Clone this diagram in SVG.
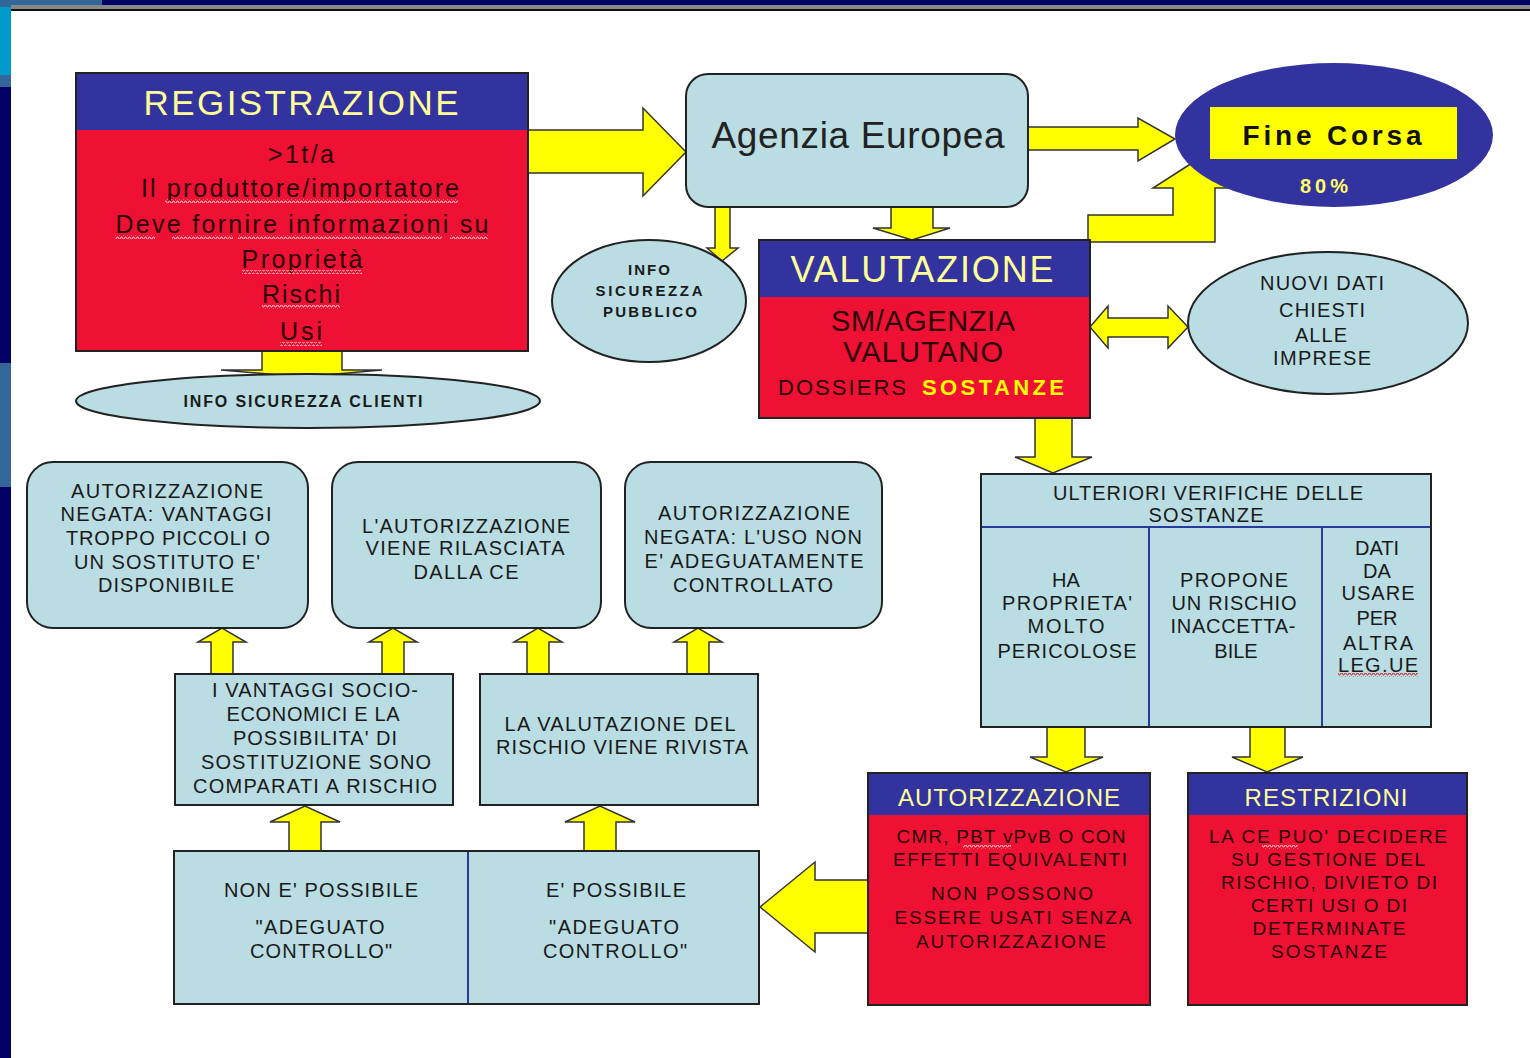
<svg xmlns="http://www.w3.org/2000/svg" width="1530" height="1058" viewBox="0 0 1530 1058">
<defs>
<style>
.t{font-family:"Liberation Sans",Arial,sans-serif;text-anchor:middle}
.title{fill:#ffff99}
.red{fill:#2a0008;font-size:25px}
.red2{fill:#2a0008;font-size:19px}
.dark{fill:#1a1a1a;font-size:20px}
.sm{fill:#1a1a1a;font-size:15px;font-weight:bold}
.hdr{fill:#3333a0}
.body{fill:#ee1133}
.lb{fill:#b9dde3;stroke:#222;stroke-width:2}
.box{stroke:#222;stroke-width:2;fill:none}
.arr{fill:#ffff00;stroke:#333;stroke-width:1.5;stroke-linejoin:miter}
.div{stroke:#2a3a9a;stroke-width:2}
.wl{fill:url(#wavyL)}
.wr{fill:url(#wavyR)}
</style>
<pattern id="wavyL" width="4" height="4" patternUnits="userSpaceOnUse">
<path d="M0,3 L1,1 L2,1 L3,3 L4,3" fill="none" stroke="#ffd0d0" stroke-width="0.9"/>
</pattern>
<pattern id="wavyR" width="4" height="4" patternUnits="userSpaceOnUse">
<path d="M0,3 L1,1 L2,1 L3,3 L4,3" fill="none" stroke="#dd1111" stroke-width="0.9"/>
</pattern>
</defs>
<rect x="0" y="0" width="1530" height="1058" fill="#ffffff"/>
<g id="frame">
<rect x="0" y="0" width="1530" height="5" fill="#000066"/>
<rect x="0" y="0" width="102" height="5" fill="#336699"/>
<rect x="11" y="5" width="1519" height="4" fill="#888888"/>
<rect x="11" y="9" width="1519" height="2" fill="#111111"/>
<rect x="0" y="5" width="11" height="1053" fill="#000066"/>
<rect x="0" y="5" width="11" height="2" fill="#336699"/>
<rect x="0" y="7" width="11" height="68" fill="#0099cc"/>
<rect x="0" y="75" width="11" height="12" fill="#336699"/>
<rect x="0" y="363" width="11" height="124" fill="#336699"/>
</g>
<g id="connectors">
<polygon class="arr" points="528,130 643,130 643,108 686,152 643,196 643,173 528,173"/>
<polygon class="arr" points="1028,127 1138,127 1138,118 1175,139 1138,161 1138,150 1028,150"/>
<polygon class="arr" points="715,207 730,207 730,248 738,248 722,261 707,248 715,248"/>
<polygon class="arr" points="891,207 933,207 933,228 950,228 912,240 873,228 891,228"/>
<polygon class="arr" points="1088,215 1173,215 1173,188 1153,188 1192,163 1230,188 1215,188 1215,242 1088,242"/>
<polygon class="arr" points="1090,327 1108,306 1108,318 1168,318 1168,306 1188,327 1168,348 1168,337 1108,337 1108,348"/>
<polygon class="arr" points="1035,418 1072,418 1072,457 1092,457 1053,473 1015,457 1035,457"/>
<polygon class="arr" points="262,351 342,351 342,370 382,370 302,377 221,370 262,370"/>
<polygon class="arr" points="1047,727 1085,727 1085,757 1103,757 1066,772 1030,757 1047,757"/>
<polygon class="arr" points="1250,727 1285,727 1285,757 1303,757 1267,772 1232,757 1250,757"/>
<polygon class="arr" points="868,880 815,880 815,862 760,907 815,952 815,933 868,933"/>
<polygon class="arr" points="289,851 289,822 270,822 305,806 340,822 321,822 321,851"/>
<polygon class="arr" points="584,851 584,822 565,822 600,806 635,822 616,822 616,851"/>
<polygon class="arr" points="211,674 211,642 198,642 222,628 246,642 233,642 233,674"/>
<polygon class="arr" points="382,674 382,642 369,642 393,628 417,642 404,642 404,674"/>
<polygon class="arr" points="527,674 527,642 514,642 538,628 562,642 549,642 549,674"/>
<polygon class="arr" points="687,674 687,642 674,642 698,628 722,642 709,642 709,674"/>
</g>
<g id="registrazione">
<rect class="body" x="76" y="73" width="452" height="278"/>
<rect class="hdr" x="76" y="73" width="452" height="57"/>
<rect class="box" x="76" y="73" width="452" height="278"/>
<text class="t title" x="301" y="115" style="font-size:35px" textLength="315">REGISTRAZIONE</text>
<text class="t red" x="301" y="163" textLength="66">&gt;1t/a</text>
<text class="t red" x="300" y="197" textLength="318">Il produttore/importatore</text>
<text class="t red" x="302" y="233" textLength="373">Deve fornire informazioni su</text>
<text class="t red" x="302" y="268" textLength="121">Proprietà</text>
<text class="t red" x="301" y="303" textLength="78">Rischi</text>
<text class="t red" x="301" y="340" textLength="42">Usi</text>
<rect class="wl" x="165" y="199" width="293" height="4"/>
<rect class="wl" x="115" y="235" width="40" height="4"/>
<rect class="wl" x="172" y="235" width="61" height="4"/>
<rect class="wl" x="238" y="235" width="204" height="4"/>
<rect class="wl" x="450" y="235" width="38" height="4"/>
<rect class="wl" x="242" y="270" width="120" height="4"/>
<rect class="wl" x="262" y="305" width="78" height="4"/>
<rect class="wl" x="280" y="342" width="42" height="4"/>
</g>
<g id="info-clienti">
<ellipse class="lb" cx="308" cy="401" rx="232" ry="27"/>
<text class="t sm" x="303" y="407" style="font-size:16px" textLength="239">INFO SICUREZZA CLIENTI</text>
</g>
<g id="agenzia">
<rect class="lb" x="686" y="74" width="342" height="133" rx="22"/>
<text class="t" x="858" y="148" style="font-size:37px" fill="#222" textLength="293">Agenzia Europea</text>
</g>
<g id="info-pubblico">
<ellipse class="lb" cx="649" cy="301" rx="97" ry="61"/>
<text class="t sm" x="649" y="275" textLength="42">INFO</text>
<text class="t sm" x="649" y="296" textLength="107">SICUREZZA</text>
<text class="t sm" x="650" y="317" textLength="94">PUBBLICO</text>
</g>
<g id="fine-corsa">
<ellipse cx="1334" cy="135" rx="159" ry="72" fill="#3333a0"/>
<rect x="1210" y="107" width="247" height="52" fill="#ffff00"/>
<text class="t" x="1332" y="145" style="font-size:28px;font-weight:bold" fill="#111" textLength="179">Fine Corsa</text>
<text class="t" x="1324" y="193" style="font-size:20px;font-weight:bold" fill="#ffff66" textLength="48">80%</text>
</g>
<g id="valutazione">
<rect class="body" x="759" y="240" width="331" height="178"/>
<rect class="hdr" x="759" y="240" width="331" height="57"/>
<rect class="box" x="759" y="240" width="331" height="178"/>
<text class="t title" x="922" y="282" style="font-size:36px" textLength="263">VALUTAZIONE</text>
<text class="t red" x="923" y="331" style="font-size:29px" textLength="184">SM/AGENZIA</text>
<text class="t red" x="923" y="362" style="font-size:29px" textLength="160">VALUTANO</text>
<text class="t" x="842" y="395" style="font-size:22px" fill="#2a0008" textLength="128">DOSSIERS</text>
<text class="t" x="993" y="395" style="font-size:22px;font-weight:bold" fill="#ffff00" textLength="142">SOSTANZE</text>
</g>
<g id="nuovi-dati">
<ellipse class="lb" cx="1328" cy="323" rx="140" ry="71"/>
<text class="t dark" x="1322" y="290" textLength="124">NUOVI DATI</text>
<text class="t dark" x="1322" y="317" textLength="86">CHIESTI</text>
<text class="t dark" x="1321" y="342" textLength="52">ALLE</text>
<text class="t dark" x="1322" y="365" textLength="98">IMPRESE</text>
</g>
<g id="ulteriori">
<rect class="lb" x="981" y="474" width="450" height="253"/>
<line class="div" x1="982" y1="527" x2="1430" y2="527"/>
<line class="div" x1="1149" y1="528" x2="1149" y2="726"/>
<line class="div" x1="1322" y1="528" x2="1322" y2="726"/>
<text class="t dark" x="1208" y="500" textLength="310">ULTERIORI VERIFICHE DELLE</text>
<text class="t dark" x="1206" y="522" textLength="115">SOSTANZE</text>
<text class="t dark" x="1066" y="587">HA</text>
<text class="t dark" x="1067" y="610" textLength="130">PROPRIETA'</text>
<text class="t dark" x="1066" y="633" textLength="77">MOLTO</text>
<text class="t dark" x="1067" y="658" textLength="139">PERICOLOSE</text>
<text class="t dark" x="1234" y="587" textLength="108">PROPONE</text>
<text class="t dark" x="1234" y="610" textLength="125">UN RISCHIO</text>
<text class="t dark" x="1233" y="633" textLength="125">INACCETTA-</text>
<text class="t dark" x="1236" y="658">BILE</text>
<text class="t dark" x="1377" y="555">DATI</text>
<text class="t dark" x="1377" y="578">DA</text>
<text class="t dark" x="1378" y="600" textLength="73">USARE</text>
<text class="t dark" x="1377" y="625">PER</text>
<text class="t dark" x="1378" y="650" textLength="70">ALTRA</text>
<text class="t dark" x="1378" y="672" textLength="80">LEG.UE</text>
<rect class="wr" x="1338" y="673" width="80" height="4"/>
</g>
<g id="autorizzazione">
<rect class="body" x="868" y="773" width="282" height="232"/>
<rect class="hdr" x="868" y="773" width="282" height="42"/>
<rect class="box" x="868" y="773" width="282" height="232"/>
<text class="t title" x="1009" y="806" style="font-size:24px" textLength="222">AUTORIZZAZIONE</text>
<text class="t red2" x="1011" y="843" textLength="229">CMR, PBT vPvB O CON</text>
<text class="t red2" x="1010" y="866" textLength="234">EFFETTI EQUIVALENTI</text>
<text class="t red2" x="1012" y="900" textLength="162">NON POSSONO</text>
<text class="t red2" x="1013" y="924" textLength="237">ESSERE USATI SENZA</text>
<text class="t red2" x="1011" y="948" textLength="190">AUTORIZZAZIONE</text>
<rect class="wl" x="963" y="845" width="48" height="4"/>
</g>
<g id="restrizioni">
<rect class="body" x="1188" y="773" width="279" height="232"/>
<rect class="hdr" x="1188" y="773" width="279" height="42"/>
<rect class="box" x="1188" y="773" width="279" height="232"/>
<text class="t title" x="1326" y="806" style="font-size:24px" textLength="163">RESTRIZIONI</text>
<text class="t red2" x="1328" y="843" textLength="238">LA CE PUO' DECIDERE</text>
<text class="t red2" x="1328" y="866" textLength="194">SU GESTIONE DEL</text>
<text class="t red2" x="1329" y="889" textLength="216">RISCHIO, DIVIETO DI</text>
<text class="t red2" x="1329" y="912" textLength="156">CERTI USI O DI</text>
<text class="t red2" x="1329" y="935" textLength="153">DETERMINATE</text>
<text class="t red2" x="1329" y="958" textLength="116">SOSTANZE</text>
<rect class="wl" x="1262" y="845" width="36" height="4"/>
</g>
<g id="controllo">
<rect class="lb" x="174" y="851" width="585" height="153"/>
<line class="div" x1="468" y1="852" x2="468" y2="1003"/>
<text class="t dark" x="321" y="897" textLength="194">NON E' POSSIBILE</text>
<text class="t dark" x="320" y="934" textLength="129">"ADEGUATO</text>
<text class="t dark" x="321" y="958" textLength="142">CONTROLLO"</text>
<text class="t dark" x="616" y="897" textLength="140">E' POSSIBILE</text>
<text class="t dark" x="614" y="934" textLength="130">"ADEGUATO</text>
<text class="t dark" x="615" y="958" textLength="144">CONTROLLO"</text>
</g>
<g id="vantaggi">
<rect class="lb" x="175" y="674" width="278" height="131"/>
<text class="t dark" x="315" y="697" textLength="206">I VANTAGGI SOCIO-</text>
<text class="t dark" x="313" y="721" textLength="173">ECONOMICI E LA</text>
<text class="t dark" x="315" y="745" textLength="164">POSSIBILITA' DI</text>
<text class="t dark" x="316" y="769" textLength="230">SOSTITUZIONE SONO</text>
<text class="t dark" x="315" y="793" textLength="244">COMPARATI A RISCHIO</text>
</g>
<g id="valutazione-rischio">
<rect class="lb" x="480" y="674" width="278" height="131"/>
<text class="t dark" x="620" y="731" textLength="231">LA VALUTAZIONE DEL</text>
<text class="t dark" x="622" y="754" textLength="252">RISCHIO VIENE RIVISTA</text>
</g>
<g id="negata-vantaggi">
<rect class="lb" x="27" y="462" width="281" height="166" rx="26"/>
<text class="t dark" x="167" y="498" textLength="192">AUTORIZZAZIONE</text>
<text class="t dark" x="166" y="521" textLength="211">NEGATA: VANTAGGI</text>
<text class="t dark" x="168" y="545" textLength="204">TROPPO PICCOLI O</text>
<text class="t dark" x="167" y="569" textLength="186">UN SOSTITUTO E'</text>
<text class="t dark" x="166" y="592" textLength="136">DISPONIBILE</text>
</g>
<g id="rilasciata">
<rect class="lb" x="332" y="462" width="269" height="166" rx="26"/>
<text class="t dark" x="466" y="533" textLength="208">L'AUTORIZZAZIONE</text>
<text class="t dark" x="465" y="555" textLength="199">VIENE RILASCIATA</text>
<text class="t dark" x="466" y="579" textLength="105">DALLA CE</text>
</g>
<g id="negata-uso">
<rect class="lb" x="625" y="462" width="257" height="166" rx="26"/>
<text class="t dark" x="754" y="520" textLength="192">AUTORIZZAZIONE</text>
<text class="t dark" x="753" y="544" textLength="218">NEGATA: L'USO NON</text>
<text class="t dark" x="754" y="568" textLength="219">E' ADEGUATAMENTE</text>
<text class="t dark" x="753" y="592" textLength="160">CONTROLLATO</text>
</g>
</svg>
